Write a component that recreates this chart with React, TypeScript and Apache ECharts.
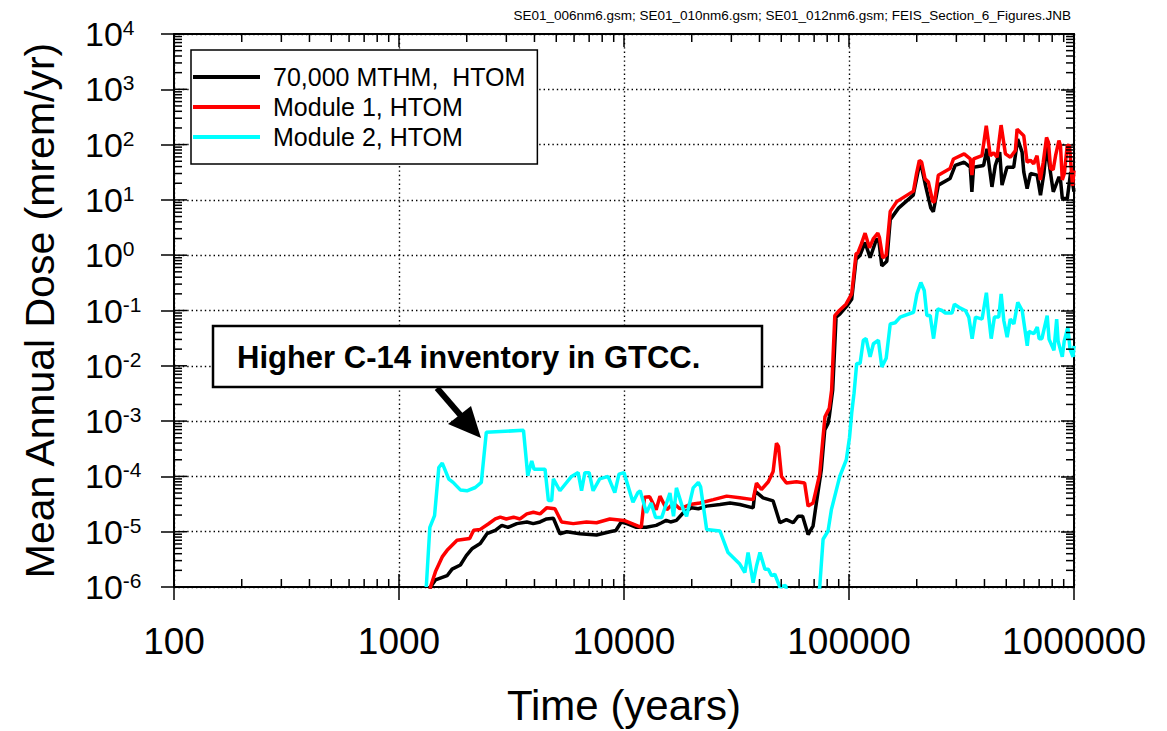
import React, { useEffect, useRef } from 'react';
import * as echarts from 'echarts';

const FONT = "'Liberation Sans', Arial, Helvetica, sans-serif";

const seriesNames = ['70,000 MTHM,\u00a0 HTOM', 'Module 1, HTOM', 'Module 2, HTOM'];
const seriesColors = ['#000000', '#ff0000', '#00ffff'];

const headerText = 'SE01_006nm6.gsm; SE01_010nm6.gsm; SE01_012nm6.gsm; FEIS_Section_6_Figures.JNB';
const annotationText = 'Higher C-14 inventory in GTCC.';
const xTitle = 'Time (years)';
const yTitle = 'Mean Annual Dose (mrem/yr)';

const xMin = 100;
const xMax = 1000000;
const yMin = 1e-6;
const yMax = 1e4;
const xDecades = [100, 1000, 10000, 100000, 1000000];
const yDecades = [1e-6, 1e-5, 1e-4, 1e-3, 1e-2, 1e-1, 1, 10, 100, 1000, 10000];

// 70,000 MTHM, HTOM
const blackTime = [1360, 1380, 1453, 1636, 1722, 1874, 1991, 2109, 2297, 2460, 2679, 2865, 3050, 3340, 3700, 3950, 4236, 4530, 4853, 5190, 5570, 6370, 7550, 8650, 9200, 9720, 10300, 11350, 12560, 13900, 14700, 15400, 16100, 17100, 18350, 19950, 21400, 23300, 26700, 29600, 32700, 37500, 38200, 41500, 46000, 49300, 52700, 56500, 59400, 62200, 65800, 69200, 71600, 75300, 78000, 80700, 81700, 84600, 87600, 91200, 97700, 102800, 107500, 112000, 117900, 124100, 132800, 136000, 139900, 147300, 152500, 166000, 193000, 205300, 208600, 217800, 231000, 237000, 249500, 281200, 296500, 325000, 345800, 351700, 357800, 396500, 410400, 431800, 446900, 467500, 478700, 503700, 539500, 562000, 587800, 598000, 619000, 640600, 685900, 709700, 734700, 755000, 787000, 809000, 857700, 871400, 887400, 933700, 966700, 1000000];
const blackDose = [5e-7, 1e-6, 1.34e-6, 1.6e-6, 2.1e-6, 2.5e-6, 3.7e-6, 4.9e-6, 6.1e-6, 9.2e-6, 1.06e-5, 1.3e-5, 1.2e-5, 1.4e-5, 1.5e-5, 1.4e-5, 1.5e-5, 1.7e-5, 1.75e-5, 9.2e-6, 1.0e-5, 9.2e-6, 8.7e-6, 1.0e-5, 1.05e-5, 1.5e-5, 1.4e-5, 1.2e-5, 1.2e-5, 1.3e-5, 1.45e-5, 1.6e-5, 1.5e-5, 1.6e-5, 2.2e-5, 2.7e-5, 2.6e-5, 2.9e-5, 3.1e-5, 3.3e-5, 3.1e-5, 2.7e-5, 5.4e-5, 4.1e-5, 3.6e-5, 1.45e-5, 1.65e-5, 1.45e-5, 1.9e-5, 1.9e-5, 8.9e-6, 1.26e-5, 3.3e-5, 1.3e-4, 6.9e-4, 9.1e-4, 1.2e-3, 3.6e-3, 7.6e-2, 8.7e-2, 0.12, 0.16, 0.84, 1.0, 1.7, 0.9, 2.0, 1.7, 0.64, 0.78, 4.4, 7.1, 12.2, 42, 45, 19.8, 7.1, 6.1, 18.5, 24.3, 42, 48, 39, 14, 39, 42, 84, 17.2, 42, 73, 18.5, 39, 39, 126, 73, 32, 16, 30, 28, 12.2, 30, 96, 30, 14, 26, 22.6, 10.6, 10.6, 32, 14];

// Module 1, HTOM
const redTime = [1360, 1380, 1453, 1556, 1636, 1811, 2061, 2147, 2297, 2502, 2679, 2819, 3000, 3230, 3450, 3700, 3956, 4236, 4530, 4930, 5280, 5950, 6810, 7550, 8650, 10000, 11930, 12340, 13000, 13900, 14450, 15500, 16600, 17700, 19640, 21760, 24950, 28600, 32700, 37500, 38800, 40800, 43800, 46000, 47600, 48600, 50100, 52700, 58400, 63500, 65800, 69200, 74100, 76700, 78200, 81700, 83700, 86500, 90600, 97000, 102800, 107500, 109500, 113500, 117900, 123300, 128400, 134300, 136500, 141200, 146300, 152500, 163000, 193400, 199600, 205400, 210400, 217800, 225400, 235600, 240000, 249400, 281300, 291300, 325000, 345900, 351800, 358000, 389900, 407400, 424600, 439500, 455000, 474200, 495600, 521500, 549000, 558500, 578000, 598000, 619000, 640000, 662000, 685000, 709000, 730000, 755000, 770000, 787000, 808000, 828000, 857000, 871000, 887000, 906000, 933000, 955000, 985000, 1000000];
const redDose = [5e-7, 1e-6, 1.9e-6, 3.5e-6, 4.6e-6, 7e-6, 7.5e-6, 1.06e-5, 1.1e-5, 1.39e-5, 1.7e-5, 1.83e-5, 1.7e-5, 1.83e-5, 1.7e-5, 2.1e-5, 2.25e-5, 2.1e-5, 2.7e-5, 2.6e-5, 1.5e-5, 1.4e-5, 1.5e-5, 1.45e-5, 1.7e-5, 1.6e-5, 1.2e-5, 4.2e-5, 4.3e-5, 2.5e-5, 4.4e-5, 2.5e-5, 3.3e-5, 2.6e-5, 3.1e-5, 3.3e-5, 3.8e-5, 4.4e-5, 4.1e-5, 3.8e-5, 7.6e-5, 5.8e-5, 8e-5, 1.23e-4, 4e-4, 3.5e-4, 1e-4, 7.6e-5, 8e-5, 7.6e-5, 2.9e-5, 3.3e-5, 1.1e-4, 5.2e-4, 1.2e-3, 1.7e-3, 3.6e-3, 8.1e-2, 0.1, 0.13, 0.2, 1.06, 1.1, 1.6, 2.5, 1.36, 2.0, 2.5, 2.1, 0.9, 1.0, 6.2, 9.3, 14.4, 30, 52, 48, 24, 21, 9.3, 9.3, 28, 37, 55, 68, 55, 28, 55, 63, 219, 63, 71, 59, 225, 68, 59, 78, 190, 165, 145, 48, 52, 45, 63, 23, 48, 135, 110, 37, 35, 63, 118, 95, 23, 30, 96, 96, 18, 34];

// Module 2, HTOM
const cyanTime = [1322, 1371, 1439, 1503, 1557, 1665, 1739, 1874, 2005, 2183, 2322, 2444, 3575, 3735, 3890, 3985, 4457, 4613, 4770, 4853, 5190, 5845, 6255, 6476, 6700, 7000, 7290, 7800, 8490, 9100, 9500, 10000, 10960, 11530, 11800, 12580, 13200, 13820, 14700, 16000, 16600, 17100, 18350, 18970, 20300, 21400, 21900, 23300, 26700, 29000, 32700, 34450, 35600, 37500, 38800, 40200, 42300, 43800, 45300, 46800, 49300, 52300, 55000, 70000, 74100, 76700, 80700, 83500, 91000, 97300, 100500, 102800, 105300, 108200, 112000, 115800, 119100, 124100, 128400, 135100, 139900, 146300, 152500, 160400, 168800, 193600, 200400, 208600, 216000, 221900, 229500, 237600, 247600, 259000, 268000, 287000, 294000, 312500, 329000, 340700, 352600, 365000, 390400, 408000, 418000, 428500, 443000, 463000, 474500, 487500, 504400, 521000, 540500, 562500, 588500, 619700, 630000, 663000, 686700, 700000, 720000, 760000, 775000, 814500, 837500, 850000, 887000, 905000, 939000, 960000, 990000, 1000000];
const cyanDose = [1e-6, 1.2e-5, 1.96e-5, 1.45e-4, 1.74e-4, 8.95e-5, 7.8e-5, 5.7e-5, 5.5e-5, 6.3e-5, 7.8e-5, 6.3e-4, 6.8e-4, 1.03e-4, 1.9e-4, 1.35e-4, 1.35e-4, 3.65e-5, 3.65e-5, 9e-5, 5.5e-5, 1e-4, 1.17e-4, 5.5e-5, 1.17e-4, 1.17e-4, 5.5e-5, 9e-5, 1e-4, 5.1e-5, 1.1e-4, 1.17e-4, 3.4e-5, 5.1e-5, 5.5e-5, 2.2e-5, 3.3e-5, 1.8e-5, 1.8e-5, 5e-5, 1.9e-5, 6.2e-5, 2.5e-5, 1.9e-5, 6.2e-5, 7.8e-5, 6.5e-5, 1.1e-5, 1.03e-5, 4.2e-6, 2.6e-6, 1.83e-6, 4.2e-6, 1.2e-6, 2.4e-6, 4.2e-6, 2.1e-6, 2.1e-6, 1.6e-6, 1.7e-6, 1e-6, 1.07e-6, 3e-7, 3e-7, 1e-6, 7.3e-6, 1.03e-5, 2.5e-5, 1e-4, 2e-4, 5e-4, 1.4e-3, 3.2e-3, 1.1e-2, 1.1e-2, 2.9e-2, 3.1e-2, 1.45e-2, 2.5e-2, 2.9e-2, 9.5e-3, 1.37e-2, 5.7e-2, 6e-2, 7.6e-2, 9.3e-2, 0.2, 0.32, 0.23, 8.1e-2, 8.1e-2, 3.1e-2, 0.107, 0.1, 9e-2, 9e-2, 0.13, 0.11, 0.1, 7.6e-2, 3.1e-2, 7.6e-2, 7e-2, 0.21, 7.6e-2, 3.1e-2, 7.6e-2, 7.6e-2, 0.2, 6.6e-2, 3.3e-2, 7e-2, 5.7e-2, 0.14, 0.1, 2.3e-2, 4.2e-2, 3.8e-2, 5e-2, 3.1e-2, 3.1e-2, 8.1e-2, 3e-2, 1.9e-2, 7e-2, 2.8e-2, 1.45e-2, 2.8e-2, 5e-2, 2e-2, 1.45e-2, 2.3e-2];

const minorMultipliers = [2, 3, 4, 5, 6, 7, 8, 9];

function pairs(t: number[], v: number[]) {
  return t.map((x, i) => [x, v[i]]);
}

type Tick = { x: number; y: number; dx: number; dy: number; len: number };

function buildTicks(): Tick[] {
  const ticks: Tick[] = [];
  const MINOR = 8;
  const MAJOR = 13;
  xDecades.slice(0, -1).forEach((d) => {
    minorMultipliers.forEach((k) => {
      ticks.push({ x: d * k, y: yMin, dx: 0, dy: -1, len: MINOR });
      ticks.push({ x: d * k, y: yMax, dx: 0, dy: 1, len: MINOR });
    });
  });
  xDecades.forEach((d) => ticks.push({ x: d, y: yMin, dx: 0, dy: -1, len: MAJOR }));
  yDecades.slice(0, -1).forEach((d) => {
    minorMultipliers.forEach((k) => {
      ticks.push({ x: xMin, y: d * k, dx: 1, dy: 0, len: MINOR });
      ticks.push({ x: xMax, y: d * k, dx: -1, dy: 0, len: MINOR });
    });
  });
  yDecades.forEach((d) => ticks.push({ x: xMin, y: d, dx: 1, dy: 0, len: MAJOR }));
  return ticks;
}

export default function App() {
  const ref = useRef<HTMLDivElement>(null);

  useEffect(() => {
    if (!ref.current) return;
    const chart = echarts.init(ref.current, undefined, { renderer: 'svg' });
    const ticks = buildTicks();

    const lineSeries = [
      { t: blackTime, v: blackDose },
      { t: redTime, v: redDose },
      { t: cyanTime, v: cyanDose },
    ].map((s, i) => ({
      name: seriesNames[i],
      type: 'line',
      data: pairs(s.t, s.v),
      showSymbol: false,
      symbol: 'none',
      clip: true,
      color: seriesColors[i],
      lineStyle: { color: seriesColors[i], width: 3.5 },
      z: 3 + i,
    }));

    const axisLineStyle = { color: '#000', width: 2 };
    const gridLine = { show: true, lineStyle: { color: '#000', width: 1.4, type: [1.4, 3] } };

    const option: any = {
      animation: false,
      backgroundColor: '#fff',
      grid: { left: 174, right: 93, top: 34, bottom: 139 },
      xAxis: [
        {
          type: 'log',
          logBase: 10,
          min: xMin,
          max: xMax,
          interval: 1,
          position: 'bottom',
          axisLine: { show: true, lineStyle: axisLineStyle },
          axisTick: { show: true, inside: false, length: 13, lineStyle: { color: '#000', width: 1.5 } },
          axisLabel: {
            margin: 36,
            fontSize: 37,
            fontFamily: FONT,
            color: '#000',
            formatter: (v: number) => String(Math.round(v)),
          },
          splitLine: gridLine,
          name: xTitle,
          nameLocation: 'middle',
          nameGap: 97,
          nameTextStyle: { fontSize: 42, fontFamily: FONT, color: '#000' },
        },
        {
          type: 'log',
          logBase: 10,
          min: xMin,
          max: xMax,
          interval: 1,
          position: 'top',
          axisLine: { show: true, lineStyle: axisLineStyle },
          axisTick: { show: true, inside: true, length: 13, lineStyle: { color: '#000', width: 1.5 } },
          axisLabel: { show: false },
          splitLine: { show: false },
        },
      ],
      yAxis: [
        {
          type: 'log',
          logBase: 10,
          min: yMin,
          max: yMax,
          interval: 1,
          position: 'left',
          axisLine: { show: true, lineStyle: axisLineStyle },
          axisTick: { show: true, inside: false, length: 13, lineStyle: { color: '#000', width: 1.5 } },
          axisLabel: {
            margin: 89,
            align: 'left',
            formatter: (v: number) => `{b|10}{s|${Math.round(Math.log10(v))}}`,
            rich: {
              b: { fontSize: 34, fontFamily: FONT, color: '#000' },
              s: { fontSize: 21, fontFamily: FONT, color: '#000', verticalAlign: 'top' },
            },
          },
          splitLine: gridLine,
          name: yTitle,
          nameLocation: 'middle',
          nameRotate: 90,
          nameGap: 114,
          nameTextStyle: { fontSize: 41, fontFamily: FONT, color: '#000' },
        },
        {
          type: 'log',
          logBase: 10,
          min: yMin,
          max: yMax,
          interval: 1,
          position: 'right',
          axisLine: { show: true, lineStyle: axisLineStyle },
          axisTick: { show: true, inside: true, length: 13, lineStyle: { color: '#000', width: 1.5 } },
          axisLabel: { show: false },
          splitLine: { show: false },
        },
      ],
      legend: {
        data: seriesNames,
        orient: 'vertical',
        left: 191,
        top: 50,
        padding: [12, 12, 12, 2],
        itemGap: 0,
        itemWidth: 67,
        itemHeight: 4,
        icon: 'rect',
        backgroundColor: '#fff',
        borderColor: '#000',
        borderWidth: 1.5,
        selectedMode: false,
        textStyle: { fontSize: 25, fontFamily: FONT, color: '#000', lineHeight: 30, padding: [0, 0, 0, 8] },
      },
      graphic: [
        {
          type: 'text',
          right: 96,
          top: 8,
          style: { text: headerText, fontSize: 13.5, fontFamily: FONT, fill: '#000' },
        },
        {
          type: 'rect',
          shape: { x: 213, y: 326, width: 549, height: 61 },
          style: { fill: '#fff', stroke: '#000', lineWidth: 2.5 },
          z: 100,
        },
        {
          type: 'text',
          x: 237,
          y: 357,
          style: {
            text: annotationText,
            fontSize: 31,
            fontWeight: 'bold',
            fontFamily: FONT,
            fill: '#000',
            verticalAlign: 'middle',
          },
          z: 101,
        },
        {
          type: 'line',
          shape: { x1: 437, y1: 388, x2: 462, y2: 417 },
          style: { stroke: '#000', lineWidth: 6 },
          z: 100,
        },
        {
          type: 'polygon',
          shape: { points: [[481, 438], [448, 424], [471, 406]] },
          style: { fill: '#000' },
          z: 100,
        },
      ],
      series: [
        ...lineSeries,
        {
          type: 'custom',
          silent: true,
          clip: false,
          z: 10,
          data: ticks.map((t) => [t.x, t.y]),
          renderItem: (params: any, api: any) => {
            const t = ticks[params.dataIndex];
            const p = api.coord([api.value(0), api.value(1)]);
            return {
              type: 'line',
              shape: { x1: p[0], y1: p[1], x2: p[0] + t.dx * t.len, y2: p[1] + t.dy * t.len },
              style: { stroke: '#000', lineWidth: 1.5 },
            };
          },
        },
      ],
    };

    chart.setOption(option);
    return () => chart.dispose();
  }, []);

  return (
    <div
      ref={ref}
      style={{ position: 'fixed', left: 0, top: 0, width: 1167, height: 731, background: '#fff' }}
    />
  );
}
